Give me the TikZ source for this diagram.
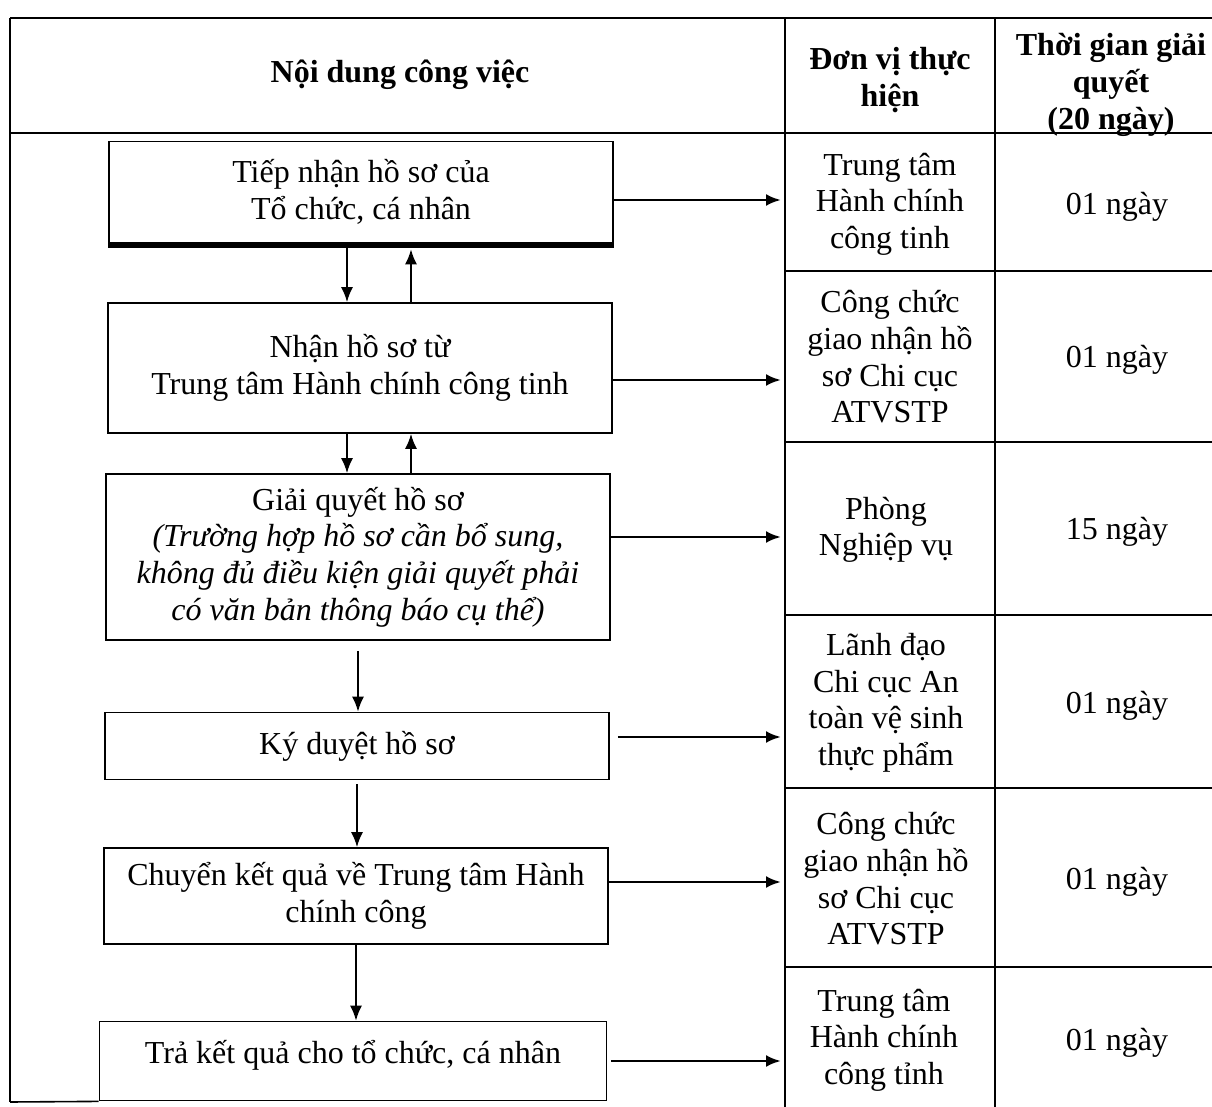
\documentclass[tikz,border=0pt]{standalone}
\usepackage{fontspec}
\setmainfont{Liberation Serif}
\usetikzlibrary{arrows.meta,calc}

\begin{document}
\begin{tikzpicture}[
      x=0.5pt, y=-0.5pt,
      every node/.style={font=\fontsize{16}{18.3}\selectfont},
      stepbox/.style={draw=black, line width=0.9pt, minimum width=252pt, inner sep=2pt, align=center},
      cell/.style={align=center, inner sep=0pt},
      head/.style={cell, font=\fontsize{16}{18.3}\selectfont\bfseries},
      grid/.style={draw=black, line width=0.8pt},
      arr/.style={-{Latex[length=7.5pt,width=6pt]}, line width=0.8pt},
      harr/.style={-{Latex[length=7.5pt,width=6pt]}, line width=1.4pt}
    ]
  \useasboundingbox (0,0) rectangle (1212,1107);

  % table frame
  \coordinate (colA) at (785,0);
  \coordinate (colB) at (995,0);
  \draw[grid] (10,18) -- (1212,18);
  \draw[grid] (10,133) -- (1212,133);
  \draw[grid] (10,18) -- (10,1102);
  \draw[grid] (785,18) -- (785,1107);
  \draw[grid] (995,18) -- (995,1107);
  \foreach \y in {271,442,615,788,967}
    \draw[grid] (785,\y) -- (1212,\y);

  % header
  \node[head] (h1) at (400,75) {Nội dung công việc};
  \node[head] (h2) at (890,80) {Đơn vị thực\\hiện};
  \node[head] (h3) at (1111,85) {Thời gian giải\\quyết\\(20 ngày)};

  % flow steps
  \node[stepbox, minimum height=50.5pt] (b1) at (361,192) {Tiếp nhận hồ sơ của\\Tổ chức, cá nhân};
  \node[stepbox, minimum height=65pt] (b2) at (360,368) {Nhận hồ sơ từ\\Trung tâm Hành chính công tinh};
  \node[stepbox, minimum height=83pt] (b3) at (358,557) {Giải quyết hồ sơ\\\itshape (Trường hợp hồ sơ cần bổ sung,\\\itshape không đủ điều kiện giải quyết phải\\\itshape có văn bản thông báo cụ thể)};
  \node[stepbox, minimum height=33.5pt] (b4) at (357,746) {Ký duyệt hồ sơ};
  \node[stepbox, minimum height=48pt] (b5) at (356,896) {Chuyển kết quả về Trung tâm Hành\\chính công};
  \node[stepbox, minimum height=39.5pt, minimum width=253.5pt, text depth=9pt] (b6) at (353,1061) {Trả kết quả cho tổ chức, cá nhân};
  \draw[line width=2.5pt] ([yshift=-1pt]b1.south west) -- ([yshift=-1pt]b1.south east);
  \draw[grid] (10,1102) -- (b6.south west);

  % units and durations
  \node[cell] (u1) at (890,204) {Trung tâm\\Hành chính\\công tinh};
  \node[cell] (u2) at (890,357) {Công chức\\giao nhận hồ\\sơ Chi cục\\ATVSTP};
  \node[cell] (u3) at (886,530) {Phòng\\Nghiệp vụ};
  \node[cell] (u4) at (886,703) {Lãnh đạo\\Chi cục An\\toàn vệ sinh\\thực phẩm};
  \node[cell] (u5) at (886,879) {Công chức\\giao nhận hồ\\sơ Chi cục\\ATVSTP};
  \node[cell] (u6) at (884,1040) {Trung tâm\\Hành chính\\công tỉnh};
  \node[cell] (t1) at (1117,207) {01 ngày};
  \node[cell] (t2) at (1117,360) {01 ngày};
  \node[cell] (t3) at (1117,532) {15 ngày};
  \node[cell] (t4) at (1117,706) {01 ngày};
  \node[cell] (t5) at (1117,882) {01 ngày};
  \node[cell] (t6) at (1117,1043) {01 ngày};

  % vertical flow
  \draw[arr] ([xshift=-7pt]b1.south) -- ([xshift=-7pt]b1.south |- b2.north);
  \draw[arr, shorten >=3pt] ([xshift=25pt]b1.south |- b2.north) -- ([xshift=25pt]b1.south);
  \draw[arr] ([xshift=-6.5pt]b2.south) -- ([xshift=-6.5pt]b2.south |- b3.north);
  \draw[arr] ([xshift=25.5pt]b2.south |- b3.north) -- ([xshift=25.5pt]b2.south);
  \draw[arr, shorten <=5pt] (b3.south) -- (b3.south |- b4.north);
  \draw[arr, shorten <=2pt] (b4.south) -- (b4.south |- b5.north);
  \draw[arr] (b5.south) -- (b5.south |- b6.north);

  % to the units
  \draw[harr, shorten >=2pt] ([yshift=-4pt]b1.east) -- ([yshift=-4pt]b1.east -| colA);
  \draw[harr, shorten >=2pt] ([yshift=-6pt]b2.east) -- ([yshift=-6pt]b2.east -| colA);
  \draw[harr, shorten >=2pt] ([yshift=10pt]b3.east) -- ([yshift=10pt]b3.east -| colA);
  \draw[harr, shorten <=4pt, shorten >=2pt] ([yshift=4.5pt]b4.east) -- ([yshift=4.5pt]b4.east -| colA);
  \draw[harr, shorten >=2pt] ([yshift=7pt]b5.east) -- ([yshift=7pt]b5.east -| colA);
  \draw[harr, shorten <=2pt, shorten >=2pt] (b6.east) -- (b6.east -| colA);
\end{tikzpicture}
\end{document}
